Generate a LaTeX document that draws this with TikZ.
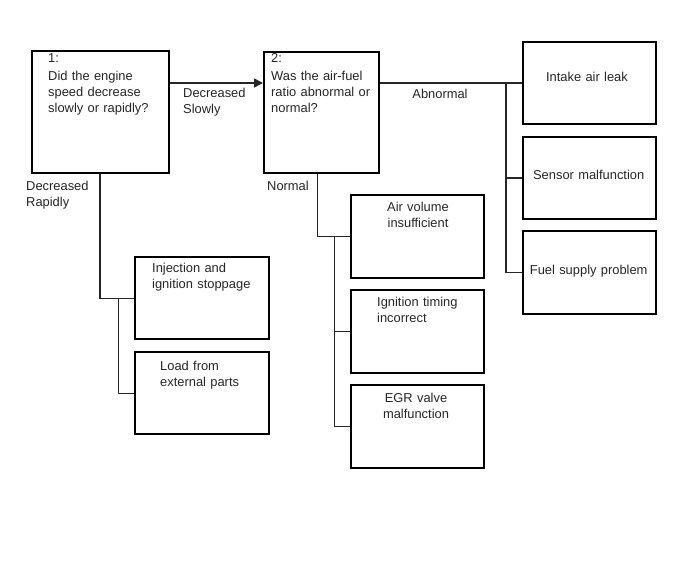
\documentclass[tikz,border=0pt]{standalone}
\usepackage{fontspec}
\setmainfont{Liberation Sans}
\usetikzlibrary{arrows.meta}
\begin{document}
\begin{tikzpicture}[x=1pt,y=-1pt,
  box/.style={draw=black,line width=2pt,inner sep=0pt,minimum width=133pt,minimum height=82.5pt},
  conn/.style={draw=black!85,line width=1.6pt},
  txt/.style={inner sep=0pt,text width=150pt,align=left,anchor=base west,font=\fontsize{12.9}{16}\selectfont,text=black!85},
  ctxt/.style={inner sep=0pt,text width=150pt,align=center,anchor=base,font=\fontsize{12.9}{16}\selectfont,text=black!85}]
\useasboundingbox (0,0) rectangle (688,560);
\fill[white] (0,0) rectangle (688,560);
% boxes
\node[box,minimum width=136.5pt,minimum height=121.5pt] (b1) at (100.25,111.75) {};
\node[box,minimum width=115pt,minimum height=121pt] (b2) at (321.5,112) {};
\node[box] (bA) at (589.2,82.85) {};
\node[box] (bB) at (589.2,177.85) {};
\node[box] (bC) at (589.2,272.5) {};
\node[box,minimum width=134pt,minimum height=82pt] (bD) at (202,298.3) {};
\node[box,minimum width=134pt,minimum height=82pt] (bE) at (202,393.3) {};
\node[box] (bF) at (417.5,236.65) {};
\node[box] (bG) at (417.5,331.5) {};
\node[box] (bH) at (417.5,426.35) {};
% texts
\node[txt] (t1n) at (48,62.5) {1:};
\node[txt] (t1) at (48,80.7) {Did the engine\\speed decrease\\slowly or rapidly?};
\node[txt] (t2n) at (271,62) {2:};
\node[txt] (t2) at (271,80.5) {Was the air-fuel\\ratio abnormal or\\normal?};
\node[txt] (lslow) at (183,97) {Decreased\\Slowly};
\node[txt] (lrapid) at (26,190) {Decreased\\Rapidly};
\node[ctxt] (labn) at (440,98.5) {Abnormal};
\node[txt] (lnorm) at (267,190) {Normal};
\node[ctxt] (tA) at (587,81) {Intake air leak};
\node[ctxt] (tB) at (588.7,179.5) {Sensor malfunction};
\node[ctxt] (tC) at (588.7,274.5) {Fuel supply problem};
\node[txt] (tD) at (152,272.8) {Injection and\\ignition stoppage};
\node[txt] (tE) at (160,370) {Load from\\external parts};
\node[ctxt] (tF) at (418,211) {Air volume\\insufficient};
\node[txt] (tG) at (377,306.5) {Ignition timing\\incorrect};
\node[ctxt] (tH) at (416,402) {EGR valve\\malfunction};
% junction coordinates
\coordinate (lvl) at (0,83);
\coordinate (j1) at (118.3,298.3);
\coordinate (x2) at (317.3,0);
\coordinate (j2) at (334.3,236.65);
\coordinate (j3) at (505.7,82.85);
% connectors
\draw[conn,-{Triangle[length=9pt,width=9pt]}] (b1.east |- lvl) -- (b2.west |- lvl);
\draw[conn] (b2.east |- bA.west) -- (bA.west);
\draw[conn] (j3) |- (bC.west);
\draw[conn] (bB.west -| j3) -- (bB.west);
\draw[conn] (b1.south) |- (bD.west);
\draw[conn] (j1) |- (bE.west);
\draw[conn] (b2.south -| x2) |- (bF.west);
\draw[conn] (j2) |- (bH.west);
\draw[conn] (bG.west -| j2) -- (bG.west);
\end{tikzpicture}
\end{document}
